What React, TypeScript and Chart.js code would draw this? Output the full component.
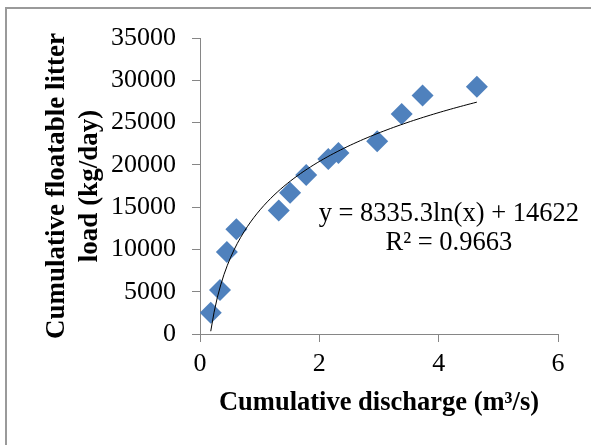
import React, { useEffect, useRef } from 'react';
import { Chart, registerables } from 'chart.js';

Chart.register(...registerables);

const dischargeX = [0.18, 0.335, 0.45, 0.61, 1.32, 1.51, 1.78, 2.15, 2.32, 2.97, 3.38, 3.73, 4.64];
const litterY = [2500, 5200, 9700, 12400, 14600, 16700, 18800, 20700, 21400, 22800, 26000, 28200, 29250];

// Axis ticks
const xTicks = [0, 2, 4, 6];
const yTicks = [0, 5000, 10000, 15000, 20000, 25000, 30000, 35000];

// Logarithmic trendline as printed on the chart
const trendSlope = 8335.3;
const trendIntercept = 14622;
const equationLines = ['y = 8335.3ln(x) + 14622', 'R² = 0.9663'];
const equationAnchor = { x: 4.17, y: 14200 };

const xTitle = 'Cumulative discharge (m³/s)';
const yTitle = ['Cumulative floatable litter', 'load (kg/day)'];

const FONT = "'Liberation Serif', 'Times New Roman', serif";
const AXIS_GREY = '#868686';

function trendPoints() {
  const lo = Math.min(...dischargeX);
  const hi = Math.max(...dischargeX);
  const n = 80;
  const pts: { x: number; y: number }[] = [];
  for (let i = 0; i <= n; i++) {
    const x = lo + ((hi - lo) * i) / n;
    pts.push({ x, y: trendSlope * Math.log(x) + trendIntercept });
  }
  return pts;
}

const framePlugin = {
  id: 'frame',
  beforeDraw(chart: any) {
    const { ctx, width, height } = chart;
    ctx.save();
    ctx.fillStyle = '#ffffff';
    ctx.fillRect(0, 0, width, height);
    ctx.strokeStyle = '#9a9a9a';
    ctx.lineWidth = 2;
    ctx.beginPath();
    ctx.moveTo(6, height + 5);
    ctx.lineTo(6, 8);
    ctx.lineTo(width + 5, 8);
    ctx.stroke();
    ctx.restore();
  },
};

const equationPlugin = {
  id: 'equation',
  afterDraw(chart: any) {
    const { ctx, scales } = chart;
    const px = scales.x.getPixelForValue(equationAnchor.x);
    const py = scales.y.getPixelForValue(equationAnchor.y);
    ctx.save();
    ctx.font = `26.5px ${FONT}`;
    ctx.fillStyle = '#000000';
    ctx.textAlign = 'center';
    ctx.textBaseline = 'middle';
    equationLines.forEach((line, i) => ctx.fillText(line, px, py + i * 29));
    ctx.restore();
  },
};

export default function App() {
  const ref = useRef<HTMLCanvasElement | null>(null);

  useEffect(() => {
    if (!ref.current) return;
    const chart = new Chart(ref.current, {
      type: 'scatter',
      data: {
        datasets: [
          {
            label: 'Logarithmic trendline',
            type: 'line',
            data: trendPoints(),
            borderColor: '#000000',
            borderWidth: 1,
            pointRadius: 0,
            fill: false,
            tension: 0,
            order: 0,
          } as any,
          {
            label: 'Cumulative floatable litter load',
            data: dischargeX.map((x, i) => ({ x, y: litterY[i] })),
            pointStyle: 'rectRot',
            pointRadius: 11,
            pointHoverRadius: 11,
            backgroundColor: '#4F81BD',
            borderColor: '#4F81BD',
            borderWidth: 0,
            order: 1,
          },
        ],
      },
      options: {
        animation: false,
        responsive: false,
        devicePixelRatio: 1,
        layout: { padding: { left: 0, right: 33, top: 38, bottom: 0 } },
        plugins: {
          legend: { display: false },
          tooltip: { enabled: false },
        },
        scales: {
          x: {
            type: 'linear',
            min: 0,
            max: 6,
            afterBuildTicks: (s: any) => {
              s.ticks = xTicks.map((v) => ({ value: v }));
            },
            afterFit: (s: any) => {
              s.height = 111;
            },
            ticks: {
              color: '#000000',
              font: { family: FONT, size: 26 },
              padding: 7,
              maxRotation: 0,
              callback: (v: any) => String(v),
            },
            grid: {
              display: true,
              drawOnChartArea: false,
              drawTicks: true,
              tickLength: 8,
              tickColor: AXIS_GREY,
            },
            border: { display: true, color: AXIS_GREY, width: 1 },
            title: {
              display: true,
              text: xTitle,
              color: '#000000',
              font: { family: FONT, size: 26.5, weight: 'bold', lineHeight: 1.2 },
              padding: { top: 0, bottom: 26 },
            },
          },
          y: {
            type: 'linear',
            min: 0,
            max: 35000,
            afterBuildTicks: (s: any) => {
              s.ticks = yTicks.map((v) => ({ value: v }));
            },
            afterFit: (s: any) => {
              s.width = 200;
            },
            ticks: {
              color: '#000000',
              font: { family: FONT, size: 26 },
              padding: 16,
              callback: (v: any) => String(v),
            },
            grid: {
              display: true,
              drawOnChartArea: false,
              drawTicks: true,
              tickLength: 8,
              tickColor: AXIS_GREY,
            },
            border: { display: true, color: AXIS_GREY, width: 1 },
            title: {
              display: true,
              text: yTitle,
              color: '#000000',
              font: { family: FONT, size: 27, weight: 'bold', lineHeight: 1.22 },
              padding: { top: 40.5, bottom: 0 },
            },
          },
        },
      },
      plugins: [framePlugin, equationPlugin],
    });
    return () => chart.destroy();
  }, []);

  return (
    <div style={{ position: 'fixed', left: 0, top: 0, width: 591, height: 445, background: '#fff' }}>
      <canvas ref={ref} width={591} height={445} style={{ display: 'block', width: 591, height: 445 }} />
    </div>
  );
}
